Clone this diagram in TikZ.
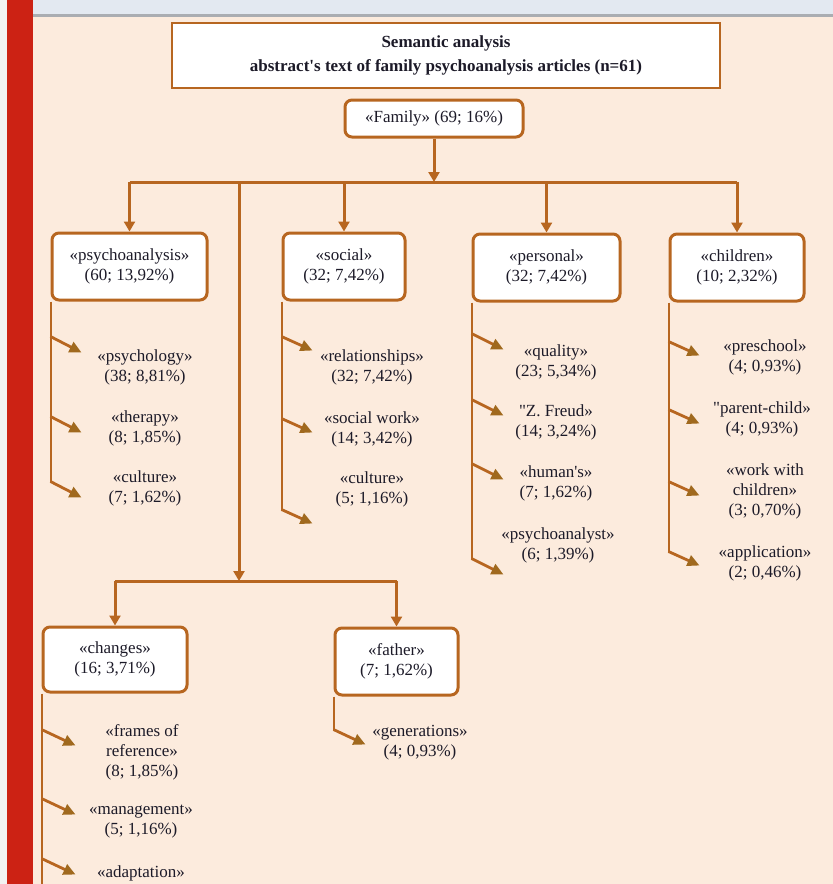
\documentclass[tikz,border=0pt]{standalone}
\usepackage{fontspec}
\setmainfont{Liberation Serif}[Ligatures=TeXOff]
\usetikzlibrary{arrows.meta}
\definecolor{linebrown}{RGB}{183,102,32}
\definecolor{tipbrown}{RGB}{160,105,30}
\definecolor{peach}{RGB}{252,235,221}
\definecolor{barred}{RGB}{204,34,20}
\definecolor{stripgray}{RGB}{227,233,241}
\definecolor{rulegray}{RGB}{170,173,178}
\definecolor{textdark}{RGB}{28,26,40}

\begin{document}
\begin{tikzpicture}[x=1pt,y=-1pt,
  font=\fontsize{17}{20}\selectfont, text=textdark,
  topic/.style={draw=linebrown,line width=3pt,rounded corners=7pt,fill=white,
    align=center,minimum width=#1,minimum height=67pt,inner sep=1pt},
  item/.style={align=center,inner sep=1pt},
  branch/.style={draw=linebrown,line width=3pt,-{Triangle[length=10pt,width=11pt]}},
  stem/.style={draw=linebrown,line width=2pt},
  sub/.style={draw=linebrown,line width=2.8pt,-{Triangle[length=12pt,width=11pt,color=tipbrown]}}]
  \useasboundingbox (0,0) rectangle (833,884);
  \clip (0,0) rectangle (833,884);
  % page frame
  \fill[white!95!black] (0,0) rectangle (7,884);
  \fill[barred] (7,0) rectangle (33,884);
  \fill[stripgray] (33,0) rectangle (833,14);
  \fill[rulegray] (33,14) rectangle (833,17);
  \fill[peach] (33,17) rectangle (833,884);

  % heading
  \node[draw=linebrown,line width=1.3pt,fill=white,minimum width=548pt,minimum height=65pt,
    align=center,font=\fontsize{17}{24}\selectfont\bfseries] (title) at (446,55.5)
    {Semantic analysis\\abstract's text of family psychoanalysis articles (n=61)};
  \node[topic=178pt,minimum height=37pt] (fam) at (434,118.5) {«Family» (69; 16\%)};

  % first level
  \node[topic=155pt] (psy) at (129.5,266.5) {«psychoanalysis»\\(60; 13,92\%)};
  \node[topic=122pt] (soc) at (344,266.5) {«social»\\(32; 7,42\%)};
  \node[topic=147pt] (per) at (546.5,267.5) {«personal»\\(32; 7,42\%)};
  \node[topic=134pt] (chi) at (737,267.5) {«children»\\(10; 2,32\%)};
  \node[topic=144pt,minimum height=65pt] (chg) at (115,659.5) {«changes»\\(16; 3,71\%)};
  \node[topic=123pt] (fat) at (396.5,661.5) {«father»\\(7; 1,62\%)};

  \coordinate (bar) at (239,182);
  \coordinate (lowbar) at (239,581);
  \draw[branch] (fam) -- (fam |- bar);
  \draw[linebrown,line width=3pt] (psy.north |- bar) -- (chi.north |- bar);
  \foreach \n in {psy,soc,per,chi}
    \draw[branch] (\n.north |- bar) -- (\n.north);
  \draw[branch] (bar) -- (lowbar);
  \draw[linebrown,line width=3pt] (chg.north |- lowbar) -- (fat.north |- lowbar);
  \foreach \n in {chg,fat}
    \draw[branch] (\n.north |- lowbar) -- (\n.north);

  % second level
  \node[item] (psy1) at (145,367) {«psychology»\\(38; 8,81\%)};
  \node[item] (psy2) at (145,428) {«therapy»\\(8; 1,85\%)};
  \node[item] (psy3) at (145,488) {«culture»\\(7; 1,62\%)};
  \node[item] (soc1) at (372,367) {«relationships»\\(32; 7,42\%)};
  \node[item] (soc2) at (372,429) {«social work»\\(14; 3,42\%)};
  \node[item] (soc3) at (372,489) {«culture»\\(5; 1,16\%)};
  \node[item] (per1) at (556,362) {«quality»\\(23; 5,34\%)};
  \node[item] (per2) at (556,422) {"Z. Freud»\\(14; 3,24\%)};
  \node[item] (per3) at (556,483) {«human's»\\(7; 1,62\%)};
  \node[item] (per4) at (558,545) {«psychoanalyst»\\(6; 1,39\%)};
  \node[item] (chi1) at (765,357) {«preschool»\\(4; 0,93\%)};
  \node[item] (chi2) at (762,419) {"parent-child»\\(4; 0,93\%)};
  \node[item] (chi3) at (765,491) {«work with\\children»\\(3; 0,70\%)};
  \node[item] (chi4) at (765,563) {«application»\\(2; 0,46\%)};
  \node[item] (chg1) at (142,752) {«frames of\\reference»\\(8; 1,85\%)};
  \node[item] (chg2) at (141,822) {«management»\\(5; 1,16\%)};
  \node[item] (chg3) at (141,873) {«adaptation»};
  \node[item] (fat1) at (420,743) {«generations»\\(4; 0,93\%)};

  \draw[stem] (psy.south west) -- ++(0,180);
  \foreach \y in {35,115,180}
    \draw[sub] (psy.south west) ++(0,\y) -- ++(31,16);
  \draw[stem] (soc.south west) -- ++(0,208);
  \foreach \y in {35,117,208}
    \draw[sub] (soc.south west) ++(0,\y) -- ++(31,14);
  \draw[stem] (per.south west) -- ++(0,256);
  \foreach \y in {31,97,161,256}
    \draw[sub] (per.south west) ++(0,\y) -- ++(32,16);
  \draw[stem] (chi.south west) -- ++(0,249);
  \foreach \y in {39,107,179,249}
    \draw[sub] (chi.south west) ++(0,\y) -- ++(31,14);
  \draw[stem] (chg.south west) -- (chg.south west |- 0,884);
  \foreach \y in {36,105,165}
    \draw[sub] (chg.south west) ++(0,\y) -- ++(34,16);
  \draw[stem] (fat.south west) -- ++(0,33);
  \draw[sub] (fat.south west) ++(0,33) -- ++(32,15);
\end{tikzpicture}
\end{document}
